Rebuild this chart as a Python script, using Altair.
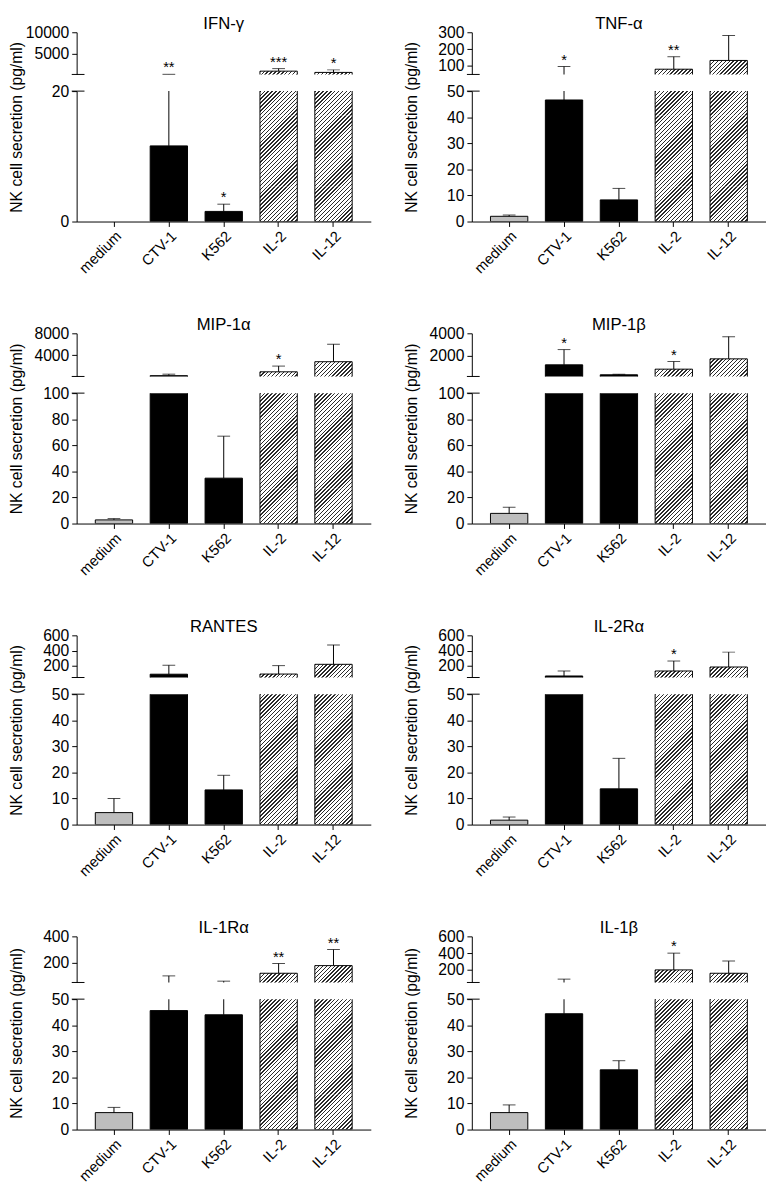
import math
import altair as alt
import pandas as pd

# ---------------- data ----------------
categories = ["medium", "CTV-1", "K562", "IL-2", "IL-12"]
kinds = ["gray", "black", "black", "hatch", "hatch"]

titles = ["IFN-γ", "TNF-α", "MIP-1α", "MIP-1β", "RANTES", "IL-2Rα", "IL-1Rα", "IL-1β"]

ifng_mean = [0, 11.6, 1.55, 800, 500]
ifng_err = [0, 50, 2.66, 1400, 1100]
ifng_stars = ["", "**", "*", "***", "*"]

tnfa_mean = [2.0, 46.6, 8.3, 81, 133]
tnfa_err = [2.5, 97, 12.7, 155, 281]
tnfa_stars = ["", "*", "", "**", ""]

mip1a_mean = [2.8, 250, 34.8, 950, 2800]
mip1a_err = [3.8, 520, 67, 2000, 6000]
mip1a_stars = ["", "", "", "*", ""]

mip1b_mean = [7.8, 1150, 250, 760, 1690]
mip1b_err = [12.5, 2530, 300, 1450, 3700]
mip1b_stars = ["", "*", "", "*", ""]

rantes_mean = [4.6, 93, 13.3, 95, 222]
rantes_err = [10, 210, 18.9, 205, 475]
rantes_stars = ["", "", "", "", ""]

il2ra_mean = [1.7, 70, 13.7, 135, 187]
il2ra_err = [2.9, 135, 25.4, 265, 381]
il2ra_stars = ["", "", "", "*", ""]

il1ra_mean = [6.5, 45.6, 44.0, 120, 178]
il1ra_err = [8.5, 100, 60, 194, 300]
il1ra_stars = ["", "", "", "**", "**"]

il1b_mean = [6.5, 44.4, 22.9, 200, 160]
il1b_err = [9.45, 90, 26.4, 400, 305]
il1b_stars = ["", "", "", "*", ""]

means = [ifng_mean, tnfa_mean, mip1a_mean, mip1b_mean, rantes_mean, il2ra_mean, il1ra_mean, il1b_mean]
errs = [ifng_err, tnfa_err, mip1a_err, mip1b_err, rantes_err, il2ra_err, il1ra_err, il1b_err]
stars_all = [ifng_stars, tnfa_stars, mip1a_stars, mip1b_stars, rantes_stars, il2ra_stars, il1ra_stars, il1b_stars]

breaks = [20, 50, 100, 100, 50, 50, 50, 50]
top_max = [10000, 300, 8000, 4000, 600, 600, 400, 600]
top_ticks = [[5000, 10000], [100, 200, 300], [4000, 8000], [2000, 4000],
             [200, 400, 600], [200, 400, 600], [200, 400], [200, 400, 600]]
bottom_ticks = [[0, 20], [0, 10, 20, 30, 40, 50], [0, 20, 40, 60, 80, 100], [0, 20, 40, 60, 80, 100],
                [0, 10, 20, 30, 40, 50], [0, 10, 20, 30, 40, 50], [0, 10, 20, 30, 40, 50], [0, 10, 20, 30, 40, 50]]

y_title = "NK cell secretion (pg/ml)"

# ---------------- style / layout ----------------
FONT = "Liberation Sans"
W = 300
TOP_H = [43, 44, 43, 47]
BOT_H = [133, 133, 133, 133]
GAP = 17
EXT = 0.06
PAD_IN, PAD_OUT = 0.32, 0.34
STEP = W / (len(categories) - PAD_IN + 2 * PAD_OUT)
BAR_W = STEP * (1 - PAD_IN)
FILLS = {"gray": "#bebebe", "black": "#000000"}
PERIOD = 4.0
DARK = 1.4
CHUNK = 36.0


def hatch(w, h, phase=0.0, color="#2b2b2b"):
    """Diagonal '/' stripes as a hard-stop linear gradient in bounding-box units."""
    tot = w + h
    k = tot / (w * w + h * h)
    stops = [(0.0, "#ffffff")]
    j = 0
    while j * PERIOD - phase <= tot:
        a = max(j * PERIOD - phase, 0.0)
        b = min(j * PERIOD - phase + DARK, tot)
        if b > a:
            stops += [(a / tot, "#ffffff"), (a / tot, color), (b / tot, color), (b / tot, "#ffffff")]
        j += 1
    stops.append((1.0, "#ffffff"))
    return alt.LinearGradient(
        gradient="linear",
        stops=[alt.GradientStop(color=c, offset=round(o, 6)) for o, c in stops],
        x1=0, y1=0, x2=k * w, y2=k * h,
    )


def y_axis(values, **kw):
    return alt.Axis(values=values, format="d", grid=False, tickSize=5, tickColor="black", tickWidth=1,
                    domainColor="black", domainWidth=1, labelColor="black", labelFont=FONT,
                    labelFontSize=16, labelPadding=3, labelOverlap=False, **kw)


x_axis_bottom = alt.Axis(title=None, labelAngle=315, labelAlign="right", labelBaseline="top",
                         tickSize=5, tickColor="black", domainColor="black", labelColor="black",
                         labelFont=FONT, labelFontSize=15, labelPadding=2, grid=False)


def build_panel(idx, title_x):
    row = idx // 2
    ht, hb = TOP_H[row], BOT_H[row]
    brk, top = breaks[idx], top_max[idx]
    lo = brk - EXT * (top - brk)
    hi = brk * (1 + EXT)
    df = pd.DataFrame({"cat": categories, "mean": means[idx], "err": errs[idx],
                       "star": stars_all[idx], "kind": kinds})
    xscale = alt.Scale(domain=categories, paddingInner=PAD_IN, paddingOuter=PAD_OUT)
    xb = alt.X("cat:N", sort=categories, scale=xscale, axis=x_axis_bottom)
    xt = alt.X("cat:N", sort=categories, scale=xscale, axis=None)
    ysb = alt.Scale(domain=[0, brk], nice=False, zero=False)
    yst = alt.Scale(domain=[brk, top], nice=False, zero=False)
    ax_b = y_axis(bottom_ticks[idx], title=y_title, titleX=title_x, titleY=(hb - ht - GAP) / 2,
                  titleAngle=270, titleAlign="center", titleBaseline="middle", titleFont=FONT,
                  titleFontSize=16, titleFontWeight="normal", titleColor="black")
    ax_t = y_axis(top_ticks[idx], title=None)

    def Yb(f):
        return alt.Y(f"{f}:Q", scale=ysb, axis=ax_b)

    def Yt(f):
        return alt.Y(f"{f}:Q", scale=yst, axis=ax_t)

    # ---------- bottom segment ----------
    bl = []
    solid = df[(df["kind"] != "hatch") & (df["mean"] > 0)].copy()
    solid["y1"] = solid["mean"].clip(upper=hi)
    solid["y0"] = 0.0
    solid["fillc"] = solid["kind"].map(FILLS)
    bl.append(alt.Chart(solid).mark_bar(stroke="black", strokeWidth=1, clip=True).encode(
        x=xb, y=Yb("y1"), y2=alt.Y2("y0:Q"), fill=alt.Fill("fillc:N", scale=None)))

    # hatched bars: filled in stacked pieces so each gradient stays short
    hat = df[df["kind"] == "hatch"].copy()
    hat["y1"] = hat["mean"].clip(upper=hi)
    hat["y0"] = 0.0
    px_per = hb / brk
    pieces = {}
    for _, r in hat.iterrows():
        H = r["y1"] * px_per
        b = 0.0
        while b < H - 1e-6:
            t = min(b + CHUNK, H)
            ytop = H - t
            key = (round(t - b, 4), round(ytop % PERIOD, 4))
            pieces.setdefault(key, []).append({"cat": r["cat"], "p0": b / px_per, "p1": t / px_per})
            b = t
    for (hgt, ph), rows in pieces.items():
        bl.append(alt.Chart(pd.DataFrame(rows)).mark_bar(
            strokeWidth=0, clip=True, fill=hatch(BAR_W, hgt, ph)).encode(
            x=xb, y=Yb("p1"), y2=alt.Y2("p0:Q")))
    bl.append(alt.Chart(hat).mark_bar(stroke="black", strokeWidth=1, fillOpacity=0, clip=True).encode(
        x=xb, y=Yb("y1"), y2=alt.Y2("y0:Q")))

    eb = df[(df["mean"] < brk) & (df["err"] > df["mean"])].copy()
    if len(eb):
        eb["e2"] = eb["err"].clip(upper=hi)
        bl.append(alt.Chart(eb).mark_rule(color="black", strokeWidth=1, clip=True).encode(
            x=xb, y=Yb("mean"), y2=alt.Y2("e2:Q")))
    cb = df[(df["err"] <= brk) & (df["err"] > df["mean"])]
    if len(cb):
        bl.append(alt.Chart(cb).mark_tick(orient="horizontal", size=13, thickness=1, color="black").encode(
            x=xb, y=Yb("err")))
    sb = df[(df["err"] <= brk) & (df["star"] != "")]
    if len(sb):
        bl.append(alt.Chart(sb).mark_text(dy=-2, baseline="alphabetic", fontSize=15, font=FONT,
                                          color="black").encode(x=xb, y=Yb("err"), text="star:N"))
    bl.append(alt.Chart(pd.DataFrame({"b": [brk]})).mark_rule(color="black", strokeWidth=1).encode(
        y=Yb("b"), x=alt.value(-5), x2=alt.value(8)))
    bottom = alt.layer(*bl).properties(width=W, height=hb)

    # ---------- top segment ----------
    tl = []
    st = df[(df["kind"] != "hatch") & (df["mean"] > brk)].copy()
    if len(st):
        st["y1"] = st["mean"].clip(upper=top)
        st["y0"] = lo
        st["fillc"] = st["kind"].map(FILLS)
        tl.append(alt.Chart(st).mark_bar(stroke="black", strokeWidth=1, clip=True).encode(
            x=xt, y=Yt("y1"), y2=alt.Y2("y0:Q"), fill=alt.Fill("fillc:N", scale=None)))
    for _, r in df[(df["kind"] == "hatch") & (df["mean"] > brk)].iterrows():
        v = min(r["mean"], top)
        d = pd.DataFrame({"cat": [r["cat"]], "y1": [v], "y0": [lo]})
        h = (v - lo) / (top - brk) * ht
        tl.append(alt.Chart(d).mark_bar(stroke="black", strokeWidth=1, clip=True,
                                        fill=hatch(BAR_W, h)).encode(
            x=xt, y=Yt("y1"), y2=alt.Y2("y0:Q")))
    et = df[(df["err"] > brk) & (df["err"] > df["mean"])].copy()
    if len(et):
        et["e1"] = et["mean"].clip(lower=lo)
        tl.append(alt.Chart(et).mark_rule(color="black", strokeWidth=1, clip=True).encode(
            x=xt, y=Yt("e1"), y2=alt.Y2("err:Q")))
        tl.append(alt.Chart(et).mark_tick(orient="horizontal", size=13, thickness=1, color="black").encode(
            x=xt, y=Yt("err")))
    stt = df[(df["err"] > brk) & (df["star"] != "")]
    if len(stt):
        tl.append(alt.Chart(stt).mark_text(dy=-2, baseline="alphabetic", fontSize=15, font=FONT,
                                           color="black").encode(x=xt, y=Yt("err"), text="star:N"))
    tl.append(alt.Chart(pd.DataFrame({"b": [brk]})).mark_rule(color="black", strokeWidth=1).encode(
        y=Yt("b"), x=alt.value(-5), x2=alt.value(8)))
    topc = alt.layer(*tl).properties(
        width=W, height=ht,
        title=alt.TitleParams(text=titles[idx], font=FONT, fontSize=17, fontWeight="normal",
                              color="black", anchor="middle", frame="group", offset=-9))

    return alt.vconcat(topc, bottom, spacing=GAP, bounds="flush")


rows = []
for r in range(4):
    rows.append(alt.hconcat(build_panel(2 * r, -61), build_panel(2 * r + 1, -61), spacing=33))

chart = alt.vconcat(*rows, spacing=41).properties(
    padding={"left": 0, "top": -4, "right": 0, "bottom": 0}).configure_view(stroke=None)

chart.save("out.html", embed_options={"renderer": "svg", "actions": False})
